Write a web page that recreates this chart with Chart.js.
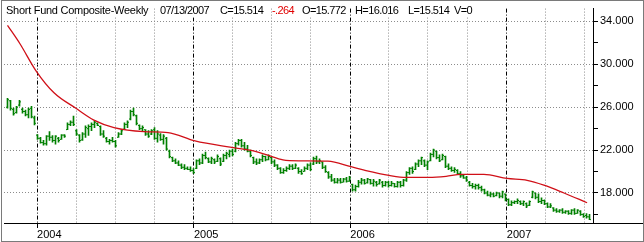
<!DOCTYPE html>
<html>
<head>
<meta charset="utf-8">
<script src="https://cdn.jsdelivr.net/npm/chart.js@4.4.0/dist/chart.umd.min.js"></script>
<style>
  html, body { margin: 0; padding: 0; background: #fff; }
  #wrap { position: relative; width: 644px; height: 242px; overflow: hidden; }
  #chart { position: absolute; left: 0; top: 0; }
  .hdr { position: absolute; top: 4px; height: 12px; line-height: 12px; font: 11px "Liberation Sans", Arial, sans-serif;
         background: #fff; color: #000; white-space: nowrap; letter-spacing: -0.6px; }
  #frame { position: absolute; left: 1px; top: 0; width: 641px; height: 240px; border: 1px solid #7a7a7a; pointer-events: none; }
</style>
</head>
<body>
<div id="wrap">
  <canvas id="chart" width="644" height="242"></canvas>
  <span class="hdr" style="left:6px;letter-spacing:-0.27px">Short Fund Composite-Weekly</span>
  <span class="hdr" style="left:160px">07/13/2007</span>
  <span class="hdr" style="left:220px">C=15.514</span>
  <span class="hdr" style="left:272px;color:#e00000">-.264</span>
  <span class="hdr" style="left:302px">O=15.772</span>
  <span class="hdr" style="left:355px">H=16.016</span>
  <span class="hdr" style="left:408px">L=15.514</span>
  <span class="hdr" style="left:454px">V=0</span>
  <div id="frame"></div>
</div>
<script>
// weekly bars, oldest first: week of 10/24/2003 through 07/13/2007
const firstBarDate = Date.UTC(2003, 9, 24);

const opens = [
  26.00, 26.60, 25.80, 25.50, 26.20, 25.80, 25.60, 25.30, 25.90, 25.00,
  23.40, 23.10, 22.70, 22.60, 23.30, 23.20, 22.90, 23.10, 23.00, 23.40,
  23.91, 24.40, 24.60, 23.80, 23.40, 22.95, 23.50, 24.00, 24.20, 24.40,
  24.50, 24.20, 23.50, 23.10, 22.80, 22.90, 22.80, 23.20, 23.50, 23.95,
  24.40, 24.90, 25.60, 25.20, 24.30, 24.00, 23.90, 23.50, 23.50, 23.90,
  23.10, 23.40, 23.00, 23.10, 21.90, 21.30, 21.00, 20.80, 20.60, 20.40,
  20.30, 20.20, 20.10, 20.30, 21.00, 20.80, 21.50, 21.20, 20.90, 21.10,
  20.95, 21.20, 20.95, 21.50, 21.60, 21.90, 21.90, 22.60, 22.90, 22.40,
  22.10, 21.90, 21.30, 20.90, 20.80, 21.10, 21.40, 21.10, 21.30, 20.90,
  20.60, 20.30, 19.90, 20.10, 20.30, 20.50, 20.30, 20.30, 20.00, 20.00,
  20.30, 20.60, 20.70, 21.20, 20.90, 20.90, 20.40, 19.90, 19.50, 19.20,
  19.00, 19.20, 19.00, 19.30, 19.10, 18.80, 18.30, 18.60, 19.00, 19.20,
  18.95, 19.25, 18.90, 19.00, 18.85, 19.00, 18.70, 19.00, 18.70, 18.90,
  18.60, 19.00, 18.70, 19.20, 19.90, 20.30, 20.20, 20.70, 21.00, 21.00,
  20.60, 21.00, 21.60, 21.90, 21.30, 21.10, 21.40, 20.50, 20.30, 20.10,
  20.10, 19.80, 19.60, 19.40, 19.00, 18.70, 18.60, 18.70, 18.50, 18.30,
  18.00, 17.80, 17.90, 17.75, 18.00, 17.70, 17.90, 17.40, 16.90, 17.10,
  17.20, 17.20, 17.00, 17.00, 16.85, 17.60, 18.00, 17.60, 17.20, 17.30,
  17.00, 16.70, 16.60, 16.40, 16.30, 16.40, 16.20, 16.30, 16.10, 16.40,
  16.10, 16.30, 16.00, 15.90, 15.772
];
const highs = [
  26.82, 26.64, 25.91, 26.09, 26.64, 25.91, 25.73, 25.91, 26.09, 25.18,
  23.45, 23.18, 22.91, 23.36, 23.73, 23.36, 23.36, 23.18, 23.45, 23.45,
  24.55, 24.73, 25.18, 23.91, 23.45, 23.64, 24.27, 24.36, 24.55, 24.73,
  24.55, 24.27, 23.82, 23.18, 23.00, 23.18, 22.91, 23.64, 23.91, 24.55,
  24.73, 25.73, 25.91, 25.27, 24.36, 24.27, 23.91, 23.82, 23.91, 24.09,
  23.82, 23.55, 23.45, 23.18, 22.00, 21.36, 21.18, 21.00, 20.73, 20.64,
  20.45, 20.45, 20.27, 21.09, 21.18, 21.64, 21.82, 21.27, 21.36, 21.18,
  21.55, 21.27, 21.64, 21.82, 22.00, 22.09, 22.73, 23.00, 23.00, 22.73,
  22.45, 22.00, 21.36, 21.18, 21.18, 21.55, 21.45, 21.55, 21.36, 21.09,
  20.64, 20.36, 20.27, 20.45, 20.64, 20.64, 20.73, 20.36, 20.18, 20.45,
  20.73, 20.82, 21.36, 21.45, 21.18, 20.91, 20.55, 20.00, 19.73, 19.36,
  19.36, 19.36, 19.36, 19.45, 19.55, 18.82, 18.73, 19.18, 19.36, 19.27,
  19.36, 19.27, 19.27, 19.09, 19.27, 19.09, 19.09, 19.09, 19.09, 18.91,
  19.09, 19.09, 19.27, 20.00, 20.36, 20.45, 20.82, 21.09, 21.36, 21.09,
  21.00, 21.73, 22.09, 21.91, 21.55, 21.64, 21.45, 20.73, 20.45, 20.36,
  20.18, 20.00, 19.73, 19.55, 19.09, 18.91, 18.82, 18.82, 18.64, 18.36,
  18.18, 18.09, 18.00, 18.09, 18.00, 18.18, 17.91, 17.45, 17.27, 17.27,
  17.45, 17.27, 17.27, 17.09, 17.27, 18.18, 18.00, 17.91, 17.55, 17.36,
  17.09, 17.00, 16.64, 16.55, 16.45, 16.55, 16.36, 16.36, 16.45, 16.55,
  16.45, 16.36, 16.09, 16.09, 16.016
];
const lows = [
  25.91, 25.73, 25.27, 25.45, 26.09, 25.45, 25.18, 25.00, 25.00, 24.36,
  23.00, 22.64, 22.45, 22.45, 22.91, 22.73, 22.55, 22.73, 23.00, 23.18,
  23.91, 24.27, 24.27, 23.36, 22.73, 22.91, 23.18, 23.36, 23.82, 24.09,
  24.27, 23.36, 23.18, 22.73, 22.55, 22.73, 22.27, 23.18, 23.45, 23.91,
  24.09, 24.82, 25.18, 24.36, 23.91, 23.82, 23.36, 23.18, 23.45, 23.00,
  22.73, 22.91, 22.55, 22.00, 21.27, 20.91, 20.73, 20.55, 20.27, 20.18,
  20.18, 20.00, 19.82, 20.27, 20.64, 20.73, 21.18, 20.82, 20.73, 20.73,
  20.91, 20.55, 20.91, 21.18, 21.36, 21.45, 21.82, 22.45, 22.27, 22.00,
  21.82, 21.36, 20.73, 20.64, 20.73, 20.91, 21.00, 21.09, 20.73, 20.45,
  20.18, 19.82, 19.82, 20.00, 20.18, 20.18, 20.27, 19.82, 19.73, 20.00,
  20.18, 20.09, 20.64, 20.73, 20.73, 20.27, 19.91, 19.36, 19.09, 18.91,
  18.91, 18.91, 19.00, 19.00, 19.09, 18.18, 18.18, 18.55, 18.82, 18.82,
  18.91, 18.82, 18.64, 18.64, 18.82, 18.55, 18.64, 18.55, 18.64, 18.55,
  18.55, 18.55, 18.64, 19.09, 19.73, 19.82, 20.18, 20.45, 20.64, 20.45,
  20.18, 21.00, 21.36, 21.18, 20.91, 21.09, 20.36, 20.18, 20.00, 19.91,
  19.73, 19.45, 19.36, 19.09, 18.64, 18.45, 18.36, 18.36, 18.18, 17.91,
  17.73, 17.64, 17.64, 17.73, 17.55, 17.55, 17.27, 16.82, 16.82, 17.00,
  17.00, 16.91, 16.82, 16.64, 16.82, 17.55, 17.45, 17.09, 17.00, 16.91,
  16.64, 16.64, 16.27, 16.18, 16.18, 16.09, 16.09, 16.00, 16.00, 16.00,
  16.09, 15.91, 15.73, 15.64, 15.514
];
const closes = [
  26.70, 25.90, 25.40, 26.00, 26.50, 25.60, 25.30, 25.80, 25.10, 24.50,
  23.10, 22.70, 22.60, 23.30, 23.20, 22.90, 23.30, 22.90, 23.40, 23.30,
  24.40, 24.60, 24.40, 23.50, 22.90, 23.50, 24.10, 24.20, 24.40, 24.60,
  24.30, 23.50, 23.30, 22.80, 22.90, 22.80, 22.40, 23.50, 23.80, 24.40,
  24.60, 25.60, 25.30, 24.50, 24.00, 24.10, 23.50, 23.30, 23.80, 23.10,
  23.50, 23.00, 23.30, 22.10, 21.40, 21.00, 20.80, 20.60, 20.40, 20.30,
  20.20, 20.10, 19.90, 21.00, 20.80, 21.50, 21.30, 20.90, 21.20, 20.90,
  21.40, 20.70, 21.50, 21.70, 21.90, 21.60, 22.60, 22.90, 22.40, 22.10,
  21.90, 21.50, 20.90, 20.80, 21.10, 21.40, 21.10, 21.40, 20.90, 20.60,
  20.30, 19.90, 20.10, 20.30, 20.50, 20.30, 20.60, 20.00, 19.80, 20.30,
  20.60, 20.20, 21.20, 20.90, 21.00, 20.40, 20.00, 19.50, 19.20, 19.00,
  19.20, 19.00, 19.30, 19.10, 19.40, 18.30, 18.60, 19.00, 19.20, 18.90,
  19.30, 18.90, 19.10, 18.80, 19.20, 18.70, 19.00, 18.70, 18.90, 18.60,
  19.00, 18.70, 19.20, 19.90, 20.30, 20.00, 20.70, 21.00, 21.30, 20.60,
  20.90, 21.60, 22.00, 21.30, 21.00, 21.50, 20.50, 20.30, 20.10, 20.20,
  19.80, 19.60, 19.40, 19.20, 18.70, 18.60, 18.70, 18.50, 18.30, 18.00,
  17.80, 17.90, 17.70, 18.00, 17.70, 18.10, 17.40, 16.90, 17.10, 17.20,
  17.30, 17.00, 17.20, 16.80, 17.20, 18.10, 17.60, 17.20, 17.30, 17.00,
  16.70, 16.80, 16.40, 16.30, 16.40, 16.20, 16.30, 16.10, 16.40, 16.10,
  16.40, 16.00, 15.80, 15.78, 15.514
];

// red average line as (week index, value)
const avgWeeks = [0, 4.2, 9.5, 15.5, 22.8, 28.8, 35.5, 45.5, 53.5, 62.5, 74.2, 80.8, 86.5, 91.8, 97.5,
  106.8, 114.5, 119.5, 127.2, 132.8, 140.5, 146.2, 151.2, 158.8, 166.5, 173.2, 178.8, 185.5, 193.2];
const avgValues = [33.64, 31.9, 29.4, 27.35, 25.9, 24.8, 24.1, 23.73, 23.64, 22.85, 22.27, 22.0, 21.55, 21.09, 21.0,
  20.97, 20.45, 20.09, 19.64, 19.45, 19.45, 19.55, 19.73, 19.73, 19.36, 19.18, 18.73, 18.0, 17.09];

const yearLabels = ['2004', '2005', '2006', '2007'];
const quarterMonths = [4, 7, 10];
const yTickValues = [16, 18, 20, 22, 24, 26, 28, 30, 32, 34];
const yLabelValues = [18, 22, 26, 30, 34];

const green = '#008000';
const fontFamily = '"Liberation Sans", Arial, sans-serif';

// x axis in weeks, 3px per week
const xMin = -7 / 6;
const xMax = xMin + 589 / 3;
const weekOf = (y, m) => (Date.UTC(y, m - 1, 1) - firstBarDate) / (7 * 864e5);

const xTicks = [];
yearLabels.forEach(label => {
  const y = Number(label);
  xTicks.push({ value: weekOf(y, 1), label: label, year: true });
  quarterMonths.forEach(m => xTicks.push({ value: weekOf(y, m), label: '', year: false }));
});
const shownTicks = xTicks.filter(t => t.value >= xMin && t.value <= xMax);

const axisTail = {
  id: 'axisTail',
  afterDraw(chart) {
    const { ctx, chartArea } = chart;
    ctx.save();
    ctx.fillStyle = '#000';
    ctx.fillRect(chartArea.right, Math.round(chartArea.bottom), chart.width - chartArea.right, 1);
    ctx.restore();
  }
};

new Chart(document.getElementById('chart'), {
  type: 'bar',
  data: {
    datasets: [
      {
        type: 'line',
        data: avgWeeks.map((w, i) => ({ x: w, y: avgValues[i] })),
        borderColor: '#d01018',
        borderWidth: 1.3,
        pointRadius: 0,
        cubicInterpolationMode: 'monotone',
        order: 0
      },
      {
        type: 'line',
        data: opens.map((v, i) => ({ x: i - 1 / 3, y: v })),
        showLine: false,
        pointStyle: 'line',
        pointRadius: 0.5,
        pointBorderWidth: 1,
        pointBorderColor: green,
        order: 1
      },
      {
        type: 'line',
        data: closes.map((v, i) => ({ x: i + 1 / 3, y: v })),
        showLine: false,
        pointStyle: 'line',
        pointRadius: 0.5,
        pointBorderWidth: 1,
        pointBorderColor: green,
        order: 1
      },
      {
        type: 'bar',
        data: highs.map((h, i) => ({ x: i, y: [lows[i], h] })),
        backgroundColor: green,
        barThickness: 1,
        order: 2
      }
    ]
  },
  options: {
    responsive: false,
    animation: false,
    events: [],
    layout: { padding: { left: 4, top: 3, right: 0, bottom: 0 }, autoPadding: false },
    plugins: {
      legend: { display: false },
      tooltip: { enabled: false }
    },
    scales: {
      x: {
        type: 'linear',
        min: xMin,
        max: xMax,
        offset: false,
        afterBuildTicks: s => { s.ticks = shownTicks.map(t => ({ value: t.value, year: t.year })); },
        afterFit: s => { s.height = 19; },
        ticks: {
          autoSkip: false,
          maxRotation: 0,
          align: 'start',
          padding: 0,
          color: '#000',
          font: { family: fontFamily, size: 11 },
          callback: (v, i) => shownTicks[i].label
        },
        grid: {
          offset: false,
          lineWidth: 1,
          color: c => (c.tick && c.tick.year ? '#000' : '#8c8c8c'),
          tickLength: 5,
          tickColor: c => (c.tick && c.tick.year ? '#000' : 'rgba(0,0,0,0)')
        },
        border: {
          color: '#000',
          width: 1,
          dash: c => (c.tick && c.tick.year ? [4, 2, 1, 2] : [1, 2])
        }
      },
      y: {
        type: 'linear',
        position: 'right',
        min: 15.2,
        max: 35.2,
        afterBuildTicks: s => { s.ticks = yTickValues.map(v => ({ value: v })); },
        afterFit: s => { s.width = 51; },
        ticks: {
          padding: 2,
          color: '#000',
          font: { family: fontFamily, size: 11 },
          callback: v => (yLabelValues.includes(v) ? v.toFixed(3) : '')
        },
        grid: {
          lineWidth: 1,
          color: c => (c.tick && yLabelValues.includes(c.tick.value) ? '#8c8c8c' : 'rgba(0,0,0,0)'),
          tickLength: 5,
          tickColor: '#000'
        },
        border: { color: '#000', width: 1, dash: [1, 2] }
      }
    }
  },
  plugins: [axisTail]
});
</script>
</body>
</html>
